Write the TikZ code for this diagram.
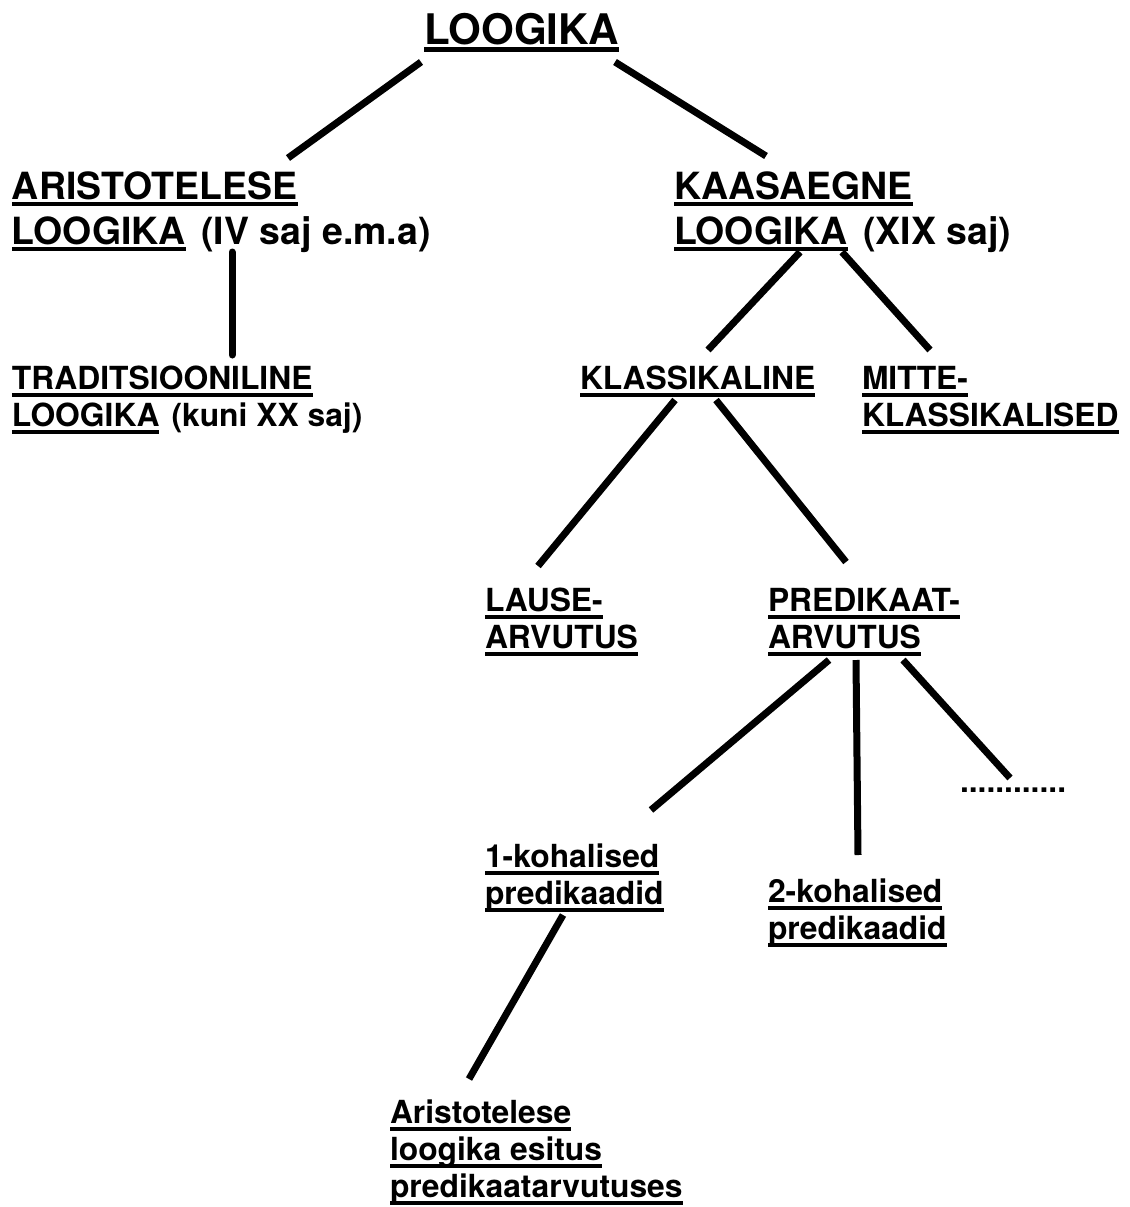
\documentclass[tikz,border=0pt]{standalone}
\usepackage{fontspec}
\setmainfont{TeX Gyre Heros}
\def\ultop{0.1em}\def\ulbot{0.22em}
\newcommand\ulx[1]{\setbox0\hbox{#1}\rlap{\vrule height -\ultop depth \ulbot width \wd0}\box0\relax}
\begin{document}
\begin{tikzpicture}[x=0.75pt,y=-0.75pt,
  lbl/.style={anchor=base west,inner sep=0pt,outer sep=0pt,font=\bfseries},
  huge/.style={lbl,font=\bfseries\fontsize{31.6}{36}\selectfont\def\ultop{0.08em}\def\ulbot{0.19em}},
  big/.style={lbl,font=\bfseries\fontsize{28.1}{33.75}\selectfont\def\ultop{0.07em}\def\ulbot{0.2em}},
  mid/.style={lbl,font=\bfseries\fontsize{23.85}{27.75}\selectfont\def\ultop{0.13em}\def\ulbot{0.25em}},
  link/.style={line width=5.25pt,line cap=butt},
  vlink/.style={line width=5.25pt,line cap=round}]
\useasboundingbox (0,0) rectangle (1130,1207);
\node[huge] (top) at (424,44) {\ulx{LOOGIKA}};
\node[big] (ari) at (12,199) {\begin{tabular}[t]{@{}l@{}}\ulx{ARISTOTELESE}\\ \ulx{LOOGIKA}\hspace{0.42em}(IV saj e.m.a)\end{tabular}};
\node[big] (kaa) at (674,199) {\begin{tabular}[t]{@{}l@{}}\ulx{KAASAEGNE}\\ \ulx{LOOGIKA}\hspace{0.42em}(XIX saj)\end{tabular}};
\node[mid] (trad) at (12,389) {\begin{tabular}[t]{@{}l@{}}\ulx{TRADITSIOONILINE}\\ \ulx{LOOGIKA}\hspace{0.38em}(kuni XX saj)\end{tabular}};
\node[mid] (kl) at (580,389) {\ulx{KLASSIKALINE}};
\node[mid] (mt) at (862,389) {\begin{tabular}[t]{@{}l@{}}\ulx{MITTE-}\\ \ulx{KLASSIKALISED}\end{tabular}};
\node[mid] (lause) at (485,611) {\begin{tabular}[t]{@{}l@{}}\ulx{LAUSE-}\\ \ulx{ARVUTUS}\end{tabular}};
\node[mid] (pred) at (768,611) {\begin{tabular}[t]{@{}l@{}}\ulx{PREDIKAAT-}\\ \ulx{ARVUTUS}\end{tabular}};
\node[mid] (dots) at (960,792) {............};
\node[mid] (k1) at (485,867) {\begin{tabular}[t]{@{}l@{}}\ulx{1-kohalised}\\ \ulx{predikaadid}\end{tabular}};
\node[mid] (k2) at (768,902) {\begin{tabular}[t]{@{}l@{}}\ulx{2-kohalised}\\ \ulx{predikaadid}\end{tabular}};
\node[mid] (ae) at (390,1123) {\begin{tabular}[t]{@{}l@{}}\ulx{Aristotelese}\\ \ulx{loogika esitus}\\ \ulx{predikaatarvutuses}\end{tabular}};
\draw[link] ([shift={(-3,18)}]top.base west) -- ([shift={(276,-41)}]ari.base west);
\draw[link] ([shift={(191,18)}]top.base west) -- ([shift={(92,-43)}]kaa.base west);
\draw[vlink] ([shift={(220,53)}]ari.base west) -- ([shift={(220,-34)}]trad.base west);
\draw[link] ([shift={(126,53)}]kaa.base west) -- ([shift={(128,-39)}]kl.base west);
\draw[link] ([shift={(168,53)}]kaa.base west) -- ([shift={(68,-39)}]mt.base west);
\draw[link] ([shift={(95,11)}]kl.base west) -- ([shift={(53,-45)}]lause.base west);
\draw[link] ([shift={(136,11)}]kl.base west) -- ([shift={(78,-49)}]pred.base west);
\draw[link] ([shift={(61,49)}]pred.base west) -- ([shift={(166,-57)}]k1.base west);
\draw[link] ([shift={(88,49)}]pred.base west) -- ([shift={(90,-47)}]k2.base west);
\draw[link] ([shift={(135,49)}]pred.base west) -- ([shift={(50,-14)}]dots.base west);
\draw[link] ([shift={(78,48)}]k1.base west) -- ([shift={(79,-44)}]ae.base west);
\end{tikzpicture}
\end{document}
